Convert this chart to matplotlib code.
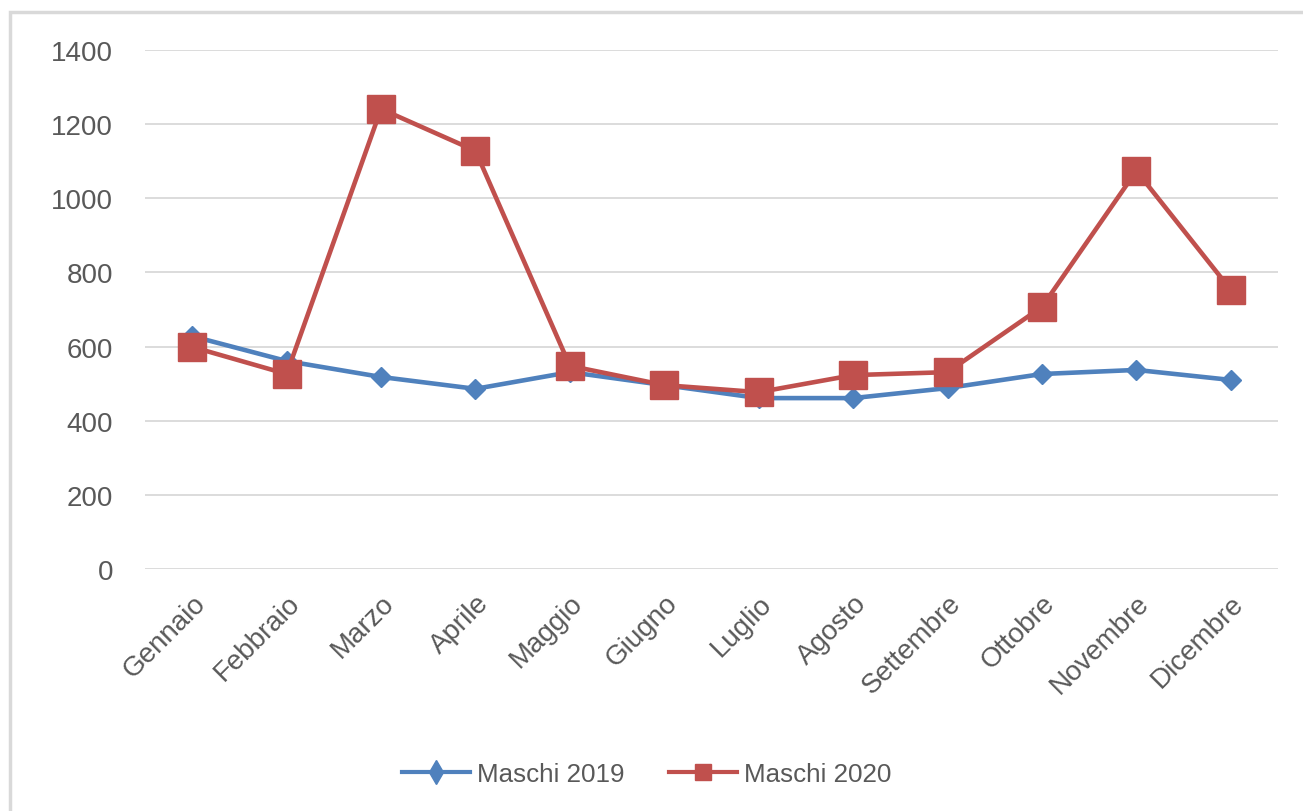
import matplotlib
matplotlib.use("Agg")
import matplotlib.pyplot as plt
from matplotlib.patches import Rectangle
from matplotlib.lines import Line2D

months = ["Gennaio", "Febbraio", "Marzo", "Aprile", "Maggio", "Giugno",
          "Luglio", "Agosto", "Settembre", "Ottobre", "Novembre", "Dicembre"]
maschi_2019 = [628, 561, 518, 486, 531, 496, 461, 461, 488, 526, 537, 510]
maschi_2020 = [599, 526, 1241, 1128, 548, 496, 477, 523, 531, 707, 1074, 753]
yticks = [0, 200, 400, 600, 800, 1000, 1200, 1400]

plt.rcParams['font.family'] = ['Liberation Sans', 'DejaVu Sans']
W, H = 1303, 812
fig = plt.figure(figsize=(W / 100, H / 100), dpi=100)

# outer chart frame (cropped at right and bottom)
fig.patches.append(Rectangle((10 / W, -0.1), 1.2, 1 - 13 / H + 0.1,
                             transform=fig.transFigure, fill=False,
                             edgecolor="#d9d9d9", linewidth=2.5))

ax = fig.add_axes([145 / W, 1 - 570 / H, (1278 - 145) / W, (570 - 51) / H])
x = list(range(len(months)))
blue = "#4F81BD"
red = "#C0504D"
txt = "#595959"
ax.plot(x, maschi_2019, color=blue, linewidth=3.3, marker="D", markersize=10,
        zorder=3)
ax.plot(x, maschi_2020, color=red, linewidth=3.3, marker="s", markersize=19.5,
        zorder=4)

ax.set_xlim(-0.5, len(months) - 0.5)
ax.set_ylim(0, 1400)
ax.set_yticks(yticks)
ax.set_yticklabels([str(v) for v in yticks])
ax.set_xticks(x)
ax.set_xticklabels(months, rotation=45, ha="right", va="top",
                   rotation_mode="anchor")
ax.tick_params(axis="both", length=0, labelsize=20, colors=txt)
ax.tick_params(axis="y", pad=23)
ax.tick_params(axis="x", pad=15)
ax.grid(axis="y", color="#d9d9d9", linewidth=1.3)
ax.set_axisbelow(True)
for s in ax.spines.values():
    s.set_visible(False)

handles = [
    Line2D([], [], color=blue, linewidth=3.0, marker="d", markersize=12),
    Line2D([], [], color=red, linewidth=3.0, marker="s", markersize=11),
]
leg = fig.legend(handles, ["Maschi 2019", "Maschi 2020"], loc="center",
                 bbox_to_anchor=(647 / W, 1 - 775 / H), ncol=2,
                 frameon=False, fontsize=18.7, handlelength=2.6,
                 columnspacing=1.7, handletextpad=0.3)
for t in leg.get_texts():
    t.set_color(txt)

fig.savefig("out.png", dpi=100)
